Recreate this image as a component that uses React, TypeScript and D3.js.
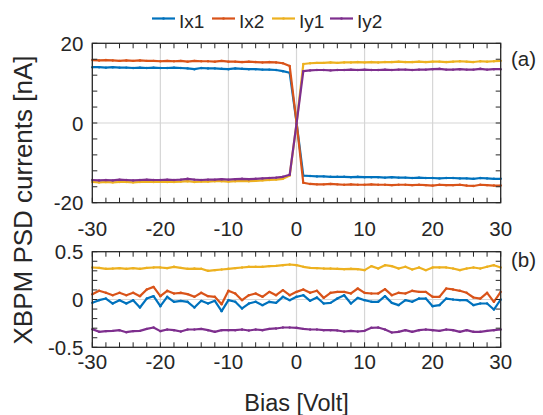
import React from "react";
import * as d3 from "d3";

const bias: number[] = d3.range(-30, 31, 1);

// Panel (a) currents [nA]
const ix1Top = [14.0, 14.0, 13.9, 14.0, 13.9, 13.9, 13.8, 13.9, 13.8, 13.9, 13.8, 13.8, 13.9, 13.8, 13.7, 13.5, 13.8, 13.7, 13.7, 13.6, 13.5, 13.7, 13.6, 13.5, 13.5, 13.4, 13.4, 13.3, 13.0,
  12.6, 0.2,
  -13.2, -13.3, -13.4, -13.4, -13.5, -13.5, -13.5, -13.6, -13.5, -13.6, -13.6, -13.6, -13.7, -13.6, -13.7, -13.7, -13.8, -13.7, -13.8, -13.8, -13.9, -13.8, -13.8, -13.9, -13.9, -14.0, -13.8, -13.9, -14.0, -14.0];
const ix2Top = [15.8, 15.7, 15.8, 15.7, 15.6, 15.7, 15.6, 15.7, 15.6, 15.6, 15.5, 15.6, 15.5, 15.6, 15.4, 15.6, 15.5, 15.5, 15.4, 15.6, 15.4, 15.4, 15.3, 15.4, 15.3, 15.2, 15.3, 15.2, 15.0,
  14.3, 0.3,
  -15.0, -15.3, -15.4, -15.4, -15.3, -15.4, -15.5, -15.4, -15.5, -15.5, -15.4, -15.5, -15.5, -15.6, -15.5, -15.5, -15.6, -15.5, -15.6, -15.7, -15.5, -15.6, -15.6, -15.5, -15.7, -15.8, -15.5, -15.6, -15.7, -15.7];
const iy1Top = [-14.8, -14.9, -14.8, -14.9, -14.8, -14.8, -14.9, -14.8, -14.7, -14.8, -14.7, -14.8, -14.8, -14.7, -14.6, -14.8, -14.7, -14.7, -14.6, -14.6, -14.7, -14.6, -14.5, -14.6, -14.5, -14.4, -14.3, -14.2, -14.0,
  -13.2, -0.2,
  14.8, 15.0, 15.1, 15.1, 15.2, 15.1, 15.2, 15.2, 15.3, 15.2, 15.3, 15.2, 15.3, 15.3, 15.4, 15.3, 15.3, 15.4, 15.3, 15.4, 15.4, 15.3, 15.4, 15.5, 15.4, 15.3, 15.5, 15.4, 15.5, 15.6];
const iy2Top = [-14.3, -14.4, -14.3, -14.4, -14.2, -14.3, -14.4, -14.3, -14.2, -14.3, -14.3, -14.2, -14.3, -14.2, -14.0, -14.2, -14.3, -14.2, -14.2, -14.1, -14.2, -14.1, -14.0, -14.1, -14.0, -13.9, -13.8, -13.7, -13.5,
  -13.0, -0.2,
  13.0, 13.2, 13.3, 13.3, 13.2, 13.3, 13.3, 13.4, 13.3, 13.4, 13.3, 13.3, 13.4, 13.3, 13.4, 13.4, 13.3, 13.4, 13.4, 13.5, 13.6, 13.4, 13.4, 13.5, 13.4, 13.4, 13.6, 13.4, 13.5, 13.5];

// Panel (b) currents [nA]
const ix1Bot = [-0.035, -0.007, 0.010, -0.042, -0.007, -0.042, -0.007, -0.084, 0.010, 0.035, -0.070, 0.028, -0.024, -0.014, -0.024, -0.084, -0.014, -0.042, -0.014, -0.122,
  -0.007, -0.024, -0.094, -0.042, -0.024, -0.059, -0.024, -0.035, 0.028, -0.007, 0.028, 0.045, -0.014, 0.021, -0.042, -0.035, 0.010, 0.045, -0.042, 0.017,
  -0.007, -0.024, -0.024, 0.035, -0.035, -0.059, -0.007, -0.024, 0.010, 0.010, -0.070, -0.059, 0.010, 0.000, -0.007, -0.007, -0.059, -0.042, -0.042, -0.105, 0.000];
const ix2Bot = [0.056, 0.091, 0.070, 0.045, 0.070, 0.045, 0.070, 0.035, 0.105, 0.132, 0.035, 0.091, 0.063, 0.070, 0.056, 0.028, 0.070, 0.035, 0.028, -0.049,
  0.091, 0.063, -0.007, 0.045, 0.063, 0.028, 0.080, 0.045, 0.098, 0.045, 0.080, 0.105, 0.070, 0.091, 0.017, 0.070, 0.080, 0.080, 0.063, 0.115,
  0.070, 0.063, 0.063, 0.108, 0.045, 0.070, 0.063, 0.091, 0.080, 0.080, 0.028, 0.028, 0.115, 0.105, 0.091, 0.070, 0.021, 0.010, 0.070, -0.024, 0.080];
const iy1Bot = [0.335, 0.331, 0.321, 0.324, 0.328, 0.321, 0.328, 0.321, 0.331, 0.335, 0.335, 0.328, 0.342, 0.331, 0.321, 0.324, 0.321, 0.300, 0.307, 0.314,
  0.321, 0.328, 0.335, 0.342, 0.342, 0.342, 0.349, 0.352, 0.359, 0.366, 0.359, 0.342, 0.331, 0.328, 0.324, 0.324, 0.321, 0.317, 0.321, 0.317,
  0.307, 0.349, 0.324, 0.359, 0.349, 0.324, 0.342, 0.314, 0.335, 0.307, 0.335, 0.335, 0.335, 0.324, 0.307, 0.324, 0.335, 0.324, 0.342, 0.359, 0.335];
const iy2Bot = [-0.310, -0.338, -0.331, -0.328, -0.321, -0.342, -0.331, -0.328, -0.307, -0.293, -0.331, -0.314, -0.321, -0.335, -0.314, -0.314, -0.307, -0.321, -0.338, -0.321,
  -0.321, -0.321, -0.314, -0.324, -0.314, -0.321, -0.307, -0.303, -0.293, -0.293, -0.296, -0.307, -0.314, -0.314, -0.321, -0.321, -0.324, -0.335, -0.328, -0.335,
  -0.328, -0.296, -0.293, -0.314, -0.345, -0.338, -0.321, -0.338, -0.321, -0.314, -0.321, -0.328, -0.314, -0.321, -0.338, -0.321, -0.338, -0.338, -0.328, -0.321, -0.314];

const seriesNames = ["Ix1", "Ix2", "Iy1", "Iy2"];
const seriesColors = ["#0072BD", "#D95319", "#EDB120", "#7E2F8E"];
const topSeries = [ix1Top, ix2Top, iy1Top, iy2Top];
const botSeries = [ix1Bot, ix2Bot, iy1Bot, iy2Bot];

const xTicks = [-30, -20, -10, 0, 10, 20, 30];
const xMinor = d3.range(-30, 31, 2);
const topYTicks = [-20, 0, 20];
const topYMinor = d3.range(-20, 21, 4);
const botYTicks = [-0.5, 0, 0.5];
const botYMinor = d3.range(-5, 6, 1).map((v) => v / 10);

const W = 543, H = 415;
const FONT = "Liberation Sans, Arial, Helvetica, sans-serif";
const AX = "#262626";
const GRID = "#d6d6d6";
const TICKFS = 20.5;

const x = d3.scaleLinear().domain([-30, 30]).range([92.3, 500.7]);
const yTop = d3.scaleLinear().domain([-20, 20]).range([202.7, 43.3]);
const yBot = d3.scaleLinear().domain([-0.5, 0.5]).range([347.3, 251.7]);

function Panel({ y, series, yTicks, yMinor, fmt, xLabelBase, tag, tagY }: any) {
  const [x0, x1] = x.range();
  const [yb, yt] = y.range();
  const line = d3.line<number>().x((_, i) => x(bias[i])).y((d) => y(d));
  const tl = 5;
  return (
    <g>
      {xTicks.filter((t) => t > -30 && t < 30).map((t) => (
        <line key={"gx" + t} x1={x(t)} x2={x(t)} y1={yt} y2={yb} stroke={GRID} strokeWidth={1.2} />
      ))}
      {yTicks.filter((t: number) => t > y.domain()[0] && t < y.domain()[1]).map((t: number) => (
        <line key={"gy" + t} x1={x0} x2={x1} y1={y(t)} y2={y(t)} stroke={GRID} strokeWidth={1.2} />
      ))}
      {series.map((s: number[], k: number) => (
        <g key={"s" + k}>
          <path d={line(s) || ""} fill="none" stroke={seriesColors[k]} strokeWidth={2.2} strokeLinejoin="round" />
          {s.map((v, i) => (
            <circle key={i} cx={x(bias[i])} cy={y(v)} r={1.2} fill={seriesColors[k]} />
          ))}
        </g>
      ))}
      {xMinor.map((t) => (
        <g key={"tx" + t}>
          <line x1={x(t)} x2={x(t)} y1={yb} y2={yb - tl} stroke={AX} strokeWidth={1} />
          <line x1={x(t)} x2={x(t)} y1={yt} y2={yt + tl} stroke={AX} strokeWidth={1} />
        </g>
      ))}
      {yMinor.map((t: number) => (
        <g key={"ty" + t}>
          <line x1={x0} x2={x0 + tl} y1={y(t)} y2={y(t)} stroke={AX} strokeWidth={1} />
          <line x1={x1} x2={x1 - tl} y1={y(t)} y2={y(t)} stroke={AX} strokeWidth={1} />
        </g>
      ))}
      <rect x={x0} y={yt} width={x1 - x0} height={yb - yt} fill="none" stroke={AX} strokeWidth={1.3} />
      {xTicks.map((t) => (
        <text key={"lx" + t} x={x(t)} y={xLabelBase} textAnchor="middle" fontSize={TICKFS} fontFamily={FONT} fill={AX}>
          {t}
        </text>
      ))}
      {yTicks.map((t: number) => (
        <text key={"ly" + t} x={x0 - 9} y={y(t) + 7.5} textAnchor="end" fontSize={TICKFS} fontFamily={FONT} fill={AX}>
          {fmt(t)}
        </text>
      ))}
      <text x={511} y={tagY} fontSize={TICKFS} fontFamily={FONT} fill={AX}>{tag}</text>
    </g>
  );
}

export default function App() {
  const legendX = [152, 212, 272, 330];
  return (
    <svg width={W} height={H} style={{ position: "absolute", left: 0, top: 0, background: "#fff" }}>
      <rect x={0} y={0} width={W} height={H} fill="#fff" />
      <Panel y={yTop} series={topSeries} yTicks={topYTicks} yMinor={topYMinor} fmt={(t: number) => String(t)} xLabelBase={236} tag="(a)" tagY={66} />
      <Panel y={yBot} series={botSeries} yTicks={botYTicks} yMinor={botYMinor} fmt={(t: number) => String(t)} xLabelBase={369} tag="(b)" tagY={267} />
      {seriesNames.map((n, k) => (
        <g key={n}>
          <line x1={legendX[k]} x2={legendX[k] + 23} y1={18.5} y2={18.5} stroke={seriesColors[k]} strokeWidth={2.2} />
          <circle cx={legendX[k] + 11.5} cy={18.5} r={1.3} fill={seriesColors[k]} />
          <text x={legendX[k] + 27} y={28} fontSize={19} fontFamily={FONT} fill={AX}>{n}</text>
        </g>
      ))}
      <text x={296.5} y={411} textAnchor="middle" fontSize={23.5} fontFamily={FONT} fill={AX}>Bias [Volt]</text>
      <text transform="translate(32,200) rotate(-90)" textAnchor="middle" fontSize={26} fontFamily={FONT} fill={AX}>
        XBPM PSD currents [nA]
      </text>
    </svg>
  );
}
